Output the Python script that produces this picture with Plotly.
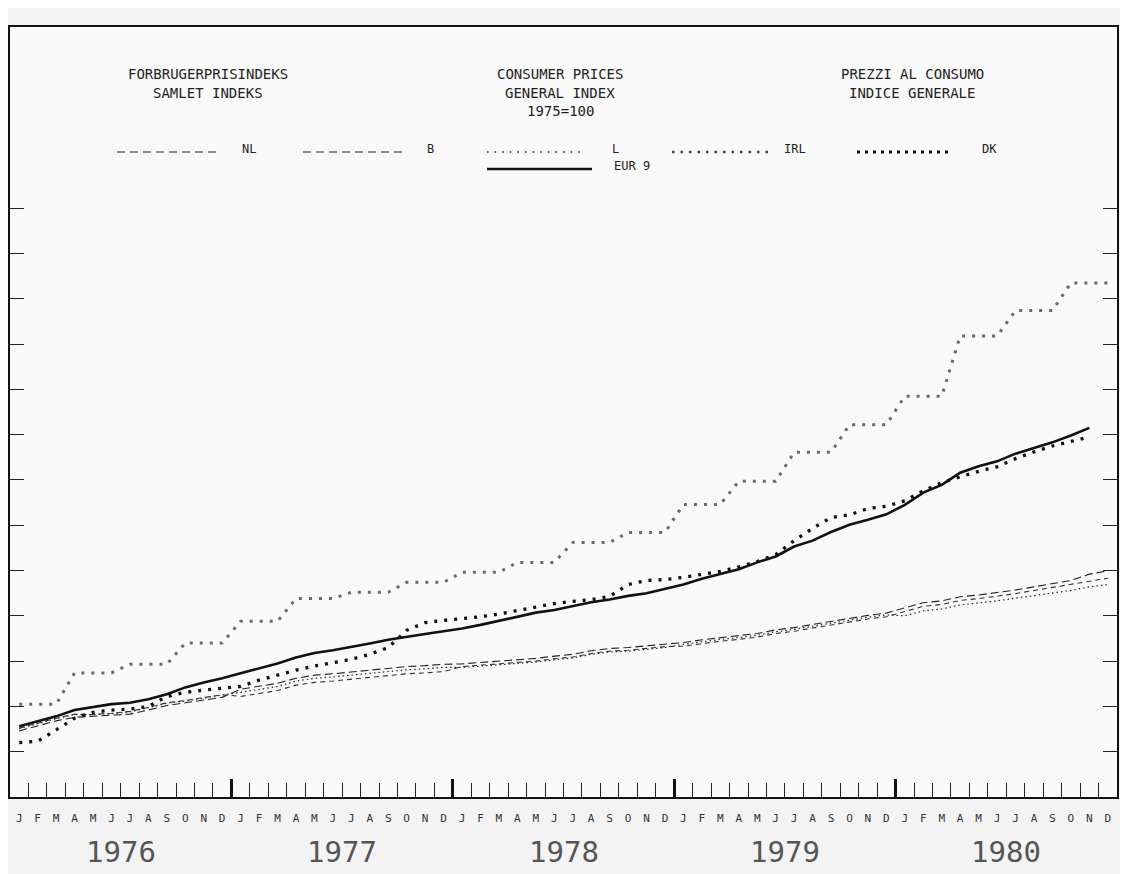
import plotly.graph_objects as go

# ---------------- data (1975 = 100), monthly Jan 1976 .. Dec 1980 ----------------
month_letters = ["J", "F", "M", "A", "M", "J", "J", "A", "S", "O", "N", "D"]
years = ["1976", "1977", "1978", "1979", "1980"]
month_labels = month_letters * len(years)

nl = [104.6, 105.7, 106.8, 107.6, 107.8, 108.0, 108.3, 109.2, 110.2, 110.8, 111.4, 112.0,
      113.8, 114.5, 115.1, 116.2, 116.9, 117.2, 117.6, 118.1, 118.5, 118.8, 119.0, 119.3,
      119.4, 119.7, 120.1, 120.4, 120.6, 121.1, 121.5, 122.3, 122.8, 123.0, 123.4, 123.8,
      124.1, 124.7, 125.2, 125.6, 126.1, 126.9, 127.4, 128.1, 128.8, 129.4, 130.1, 130.6,
      131.8, 132.9, 133.3, 134.2, 134.6, 135.1, 135.7, 136.4, 137.1, 137.8, 139.2, 139.9]

b = [105.2, 106.3, 107.4, 108.3, 108.2, 108.5, 108.9, 109.8, 110.8, 111.3, 112.0, 112.6,
     112.2, 112.9, 113.5, 114.7, 115.3, 115.6, 116.0, 116.5, 116.9, 117.2, 117.4, 117.7,
     118.8, 119.1, 119.5, 119.8, 120.0, 120.5, 120.9, 121.7, 122.2, 122.4, 122.8, 123.2,
     123.3, 123.9, 124.4, 124.8, 125.3, 126.1, 126.6, 127.3, 128.0, 128.6, 129.3, 129.8,
     131.0, 132.1, 132.5, 133.4, 133.8, 134.3, 134.9, 135.6, 136.3, 136.9, 137.7, 138.3]

lux = [105.1, 106.2, 107.3, 108.2, 108.2, 108.4, 108.8, 109.7, 110.7, 111.2, 111.9, 112.5,
       113.1, 113.8, 114.4, 115.6, 116.2, 116.5, 116.9, 117.4, 117.8, 118.1, 118.3, 118.6,
       118.6, 118.9, 119.3, 119.6, 119.8, 120.3, 120.7, 121.5, 122.0, 122.2, 122.6, 123.0,
       123.7, 124.3, 124.8, 125.2, 125.7, 126.5, 127.0, 127.7, 128.4, 129.0, 129.7, 130.2,
       130.0, 131.1, 131.5, 132.4, 132.8, 133.3, 133.9, 134.5, 135.1, 135.6, 136.4, 136.9]

irl = [110.5, 110.5, 110.5, 117.4, 117.4, 117.4, 119.3, 119.3, 119.3, 124.0, 124.0, 124.0,
       128.8, 128.8, 128.8, 133.8, 133.8, 133.8, 135.2, 135.2, 135.2, 137.4, 137.4, 137.4,
       139.6, 139.6, 139.6, 141.8, 141.8, 141.8, 146.2, 146.2, 146.2, 148.4, 148.4, 148.4,
       154.6, 154.6, 154.6, 159.7, 159.7, 159.7, 166.1, 166.1, 166.1, 172.2, 172.2, 172.2,
       178.5, 178.5, 178.5, 191.8, 191.8, 191.8, 197.4, 197.4, 197.4, 203.5, 203.5, 203.5]

dk = [102.0, 102.3, 104.8, 107.4, 108.7, 109.2, 109.4, 110.0, 112.2, 113.1, 113.6, 114.0,
      114.4, 115.8, 116.9, 118.0, 118.9, 119.6, 120.4, 121.5, 123.0, 126.8, 128.5, 129.0,
      129.4, 129.8, 130.4, 131.2, 132.0, 132.7, 133.2, 133.6, 134.3, 136.9, 137.8, 138.0,
      138.5, 139.1, 139.8, 140.8, 142.0, 143.5, 146.6, 149.3, 151.7, 152.3, 153.7, 154.2,
      155.4, 157.6, 159.4, 160.7, 161.9, 162.9, 164.7, 166.2, 167.5, 168.5, 169.5]

eur9 = [105.6, 106.7, 107.8, 109.2, 109.9, 110.5, 110.8, 111.6, 112.7, 114.2, 115.3, 116.2,
        117.3, 118.4, 119.5, 120.8, 121.8, 122.4, 123.1, 123.9, 124.7, 125.4, 126.0, 126.6,
        127.2, 128.0, 128.9, 129.8, 130.7, 131.3, 132.2, 133.0, 133.6, 134.4, 135.0, 135.9,
        136.9, 138.2, 139.2, 140.3, 141.8, 143.1, 145.3, 146.6, 148.5, 150.1, 151.2, 152.4,
        154.5, 157.2, 158.9, 161.6, 163.0, 164.1, 165.8, 167.1, 168.3, 169.8, 171.5]

y_ticks = [100, 110, 120, 130, 140, 150, 160, 170, 180, 190, 200, 210, 220]

# ---------------- figure ----------------
FONT = "DejaVu Sans Mono"
INK = "#1a1a1a"


def mid(series):
    return [i + 0.5 for i in range(len(series))]


fig = go.Figure()

series_specs = [
    ("IRL", irl, dict(color="#6a6a6a", width=3, dash="3px,7px")),
    ("L", lux, dict(color="#222222", width=1.2, dash="1.5px,3px")),
    ("B", b, dict(color="#333333", width=1.1, dash="5px,4px")),
    ("NL", nl, dict(color="#222222", width=1.1, dash="8px,4px")),
    ("DK", dk, dict(color="#111111", width=3.3, dash="3px,7px")),
    ("EUR 9", eur9, dict(color="#111111", width=2.6)),
]
for name, vals, line in series_specs:
    fig.add_trace(go.Scatter(x=mid(vals), y=vals, mode="lines", name=name,
                             line=line, showlegend=False, hoverinfo="skip"))

# invisible trace carrying the year-boundary tick axis
fig.add_trace(go.Scatter(x=[], y=[], xaxis="x2", showlegend=False, hoverinfo="skip"))

month_pos = [i + 0.5 for i in range(len(month_labels))]

# the page places the figure 8px from the window's top-left corner
W, H = 1120, 866
L_M, T_M = 2, 19
R_M, B_M = 11, 77

fig.update_layout(
    width=W, height=H,
    margin=dict(l=L_M, r=R_M, t=T_M, b=B_M),
    paper_bgcolor="#f3f3f3",
    plot_bgcolor="#f9f9f9",
    font=dict(family=FONT, color=INK),
    xaxis=dict(range=[0, 60], showgrid=False, zeroline=False,
               showline=True, linecolor="#111", linewidth=2, mirror=True,
               tickmode="array", tickvals=month_pos, ticktext=month_labels,
               ticks="", tickfont=dict(family=FONT, size=11, color="#333"),
               ticklabelstandoff=10,
               minor=dict(tickvals=list(range(1, 60)), ticks="inside", ticklen=14,
                          tickwidth=1.3, tickcolor="#222", showgrid=False)),
    xaxis2=dict(range=[0, 60], overlaying="x", anchor="y", side="bottom",
                showgrid=False, zeroline=False, showline=False, showticklabels=False,
                tickmode="array", tickvals=[12, 24, 36, 48], ticks="inside",
                ticklen=18, tickwidth=3, tickcolor="#111"),
    yaxis=dict(range=[90, 260], showgrid=False, zeroline=False,
               showline=True, linecolor="#111", linewidth=2, mirror="ticks",
               tickmode="array", tickvals=y_ticks, ticks="inside", ticklen=14,
               tickwidth=1.3, tickcolor="#222", showticklabels=False),
)

# ---------------- header texts ----------------
PLOT_L, PLOT_T = 10, 27          # frame position in the page (px)
PLOT_W, PLOT_H = 1107, 770


def px_x(px):
    return (px - PLOT_L) / PLOT_W


def px_y(py):
    return (PLOT_T + PLOT_H - py) / PLOT_H


titles = [
    ("FORBRUGERPRISINDEKS", 208, 74), ("SAMLET INDEKS", 208, 93),
    ("CONSUMER PRICES", 560, 74), ("GENERAL INDEX", 560, 93), ("1975=100", 560, 111),
    ("PREZZI AL CONSUMO", 912, 74), ("INDICE GENERALE", 912, 93),
]
for txt, x, y in titles:
    fig.add_annotation(text=txt, x=px_x(x), y=px_y(y), xref="paper", yref="paper",
                       showarrow=False, xanchor="center", yanchor="middle",
                       font=dict(family=FONT, size=14, color="#222"))

# ---------------- legend (line samples + labels) ----------------
legend_items = [
    ("NL", 117, 218, 152, 240, dict(color="#222", width=1.2, dash="8px,5px")),
    ("B", 303, 403, 152, 425, dict(color="#222", width=1.2, dash="8px,5px")),
    ("L", 487, 583, 152, 610, dict(color="#222", width=1.6, dash="1.6px,6px")),
    ("IRL", 672, 768, 152, 782, dict(color="#444", width=2.5, dash="2.5px,6px")),
    ("DK", 857, 952, 152, 980, dict(color="#111", width=3, dash="3px,5px")),
    ("EUR 9", 487, 592, 169, 612, dict(color="#111", width=2.6)),
]
for label, x0, x1, y, tx, line in legend_items:
    fig.add_shape(type="line", xref="paper", yref="paper",
                  x0=px_x(x0), x1=px_x(x1), y0=px_y(y), y1=px_y(y), line=line)
    fig.add_annotation(text=label, x=px_x(tx), y=px_y(y - 3), xref="paper", yref="paper",
                       showarrow=False, xanchor="left", yanchor="middle",
                       font=dict(family=FONT, size=12, color="#222"))

# ---------------- year labels ----------------
for i, yr in enumerate(years):
    fig.add_annotation(text=yr, x=i * 12 + 6, y=px_y(852), xref="x", yref="paper",
                       showarrow=False, xanchor="center", yanchor="middle",
                       font=dict(family=FONT, size=29, color="#555"))

fig.write_html("out.html")
